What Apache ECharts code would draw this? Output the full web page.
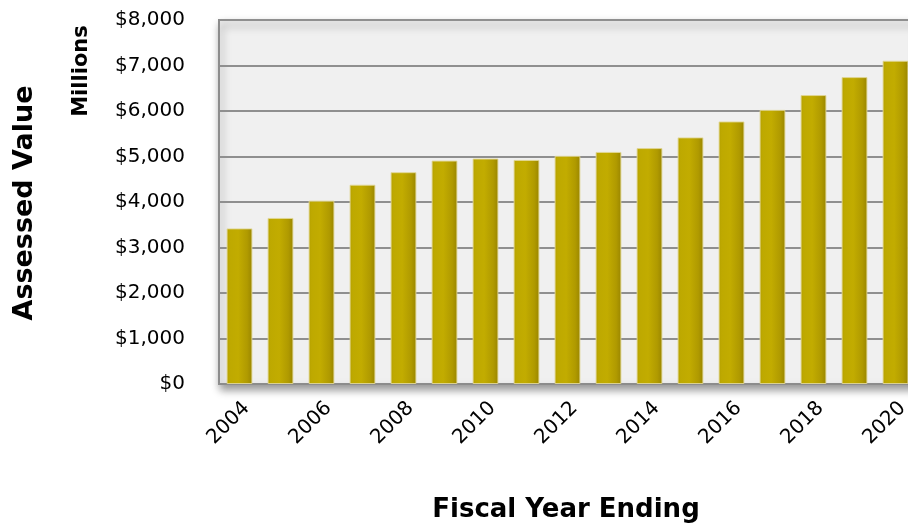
<!DOCTYPE html>
<html>
<head>
<meta charset="utf-8">
<script src="https://cdn.jsdelivr.net/npm/echarts@6/dist/echarts.min.js"></script>
<style>
html,body{margin:0;padding:0;background:#fff;}
#chart{width:908px;height:526px;}
</style>
</head>
<body>
<div id="chart"></div>
<script>
var years = ['2004','2005','2006','2007','2008','2009','2010','2011','2012','2013','2014','2015','2016','2017','2018','2019','2020'];
var assessedValue = [3420, 3650, 4030, 4380, 4655, 4910, 4955, 4925, 5015, 5100, 5185, 5420, 5770, 6025, 6350, 6745, 7105];
var yTicks = [0, 1000, 2000, 3000, 4000, 5000, 6000, 7000, 8000];

var FONT = 'DejaVu Sans';
var chart = echarts.init(document.getElementById('chart'), null, {renderer: 'canvas'});
chart.setOption({
  animation: false,
  backgroundColor: '#ffffff',
  grid: {
    left: 219, top: 20, width: 697, height: 364,
    outerBoundsMode: 'none',
    containLabel: false,
    show: true,
    backgroundColor: '#f0f0f0',
    borderColor: '#8c8c8c',
    borderWidth: 2,
    shadowColor: 'rgba(0,0,0,0.4)',
    shadowBlur: 8,
    shadowOffsetX: 2,
    shadowOffsetY: 5
  },
  xAxis: {
    type: 'category',
    data: years,
    axisLine: {show: true, lineStyle: {color: '#8c8c8c', width: 2}},
    axisTick: {show: false},
    axisLabel: {
      interval: 1,
      rotate: 45,
      margin: 14,
      verticalAlign: 'top',
      fontFamily: FONT,
      fontSize: 20,
      color: '#000'
    }
  },
  yAxis: {
    type: 'value',
    min: yTicks[0],
    max: yTicks[yTicks.length - 1],
    interval: 1000,
    axisLine: {show: true, lineStyle: {color: '#8c8c8c', width: 2}},
    axisTick: {show: false},
    splitLine: {show: true, lineStyle: {color: '#8f8f8f', width: 2}},
    axisLabel: {
      margin: 34,
      fontFamily: FONT,
      fontSize: 20,
      color: '#000',
      formatter: function (v) { return '$' + v.toLocaleString('en-US'); }
    }
  },
  series: [{
    type: 'bar',
    data: assessedValue,
    barWidth: '63%',
    itemStyle: {
      color: new echarts.graphic.LinearGradient(0, 0, 1, 0, [
        {offset: 0, color: '#b4a000'},
        {offset: 0.12, color: '#bea900'},
        {offset: 0.45, color: '#c2ac00'},
        {offset: 0.8, color: '#b09a00'},
        {offset: 1, color: '#998500'}
      ]),
      borderColor: 'rgba(225,215,150,0.9)',
      borderWidth: 1
    }
  }],
  graphic: [
    {
      type: 'text', x: 25, y: 203, rotation: Math.PI / 2,
      style: {text: 'Assessed Value', fontFamily: FONT, fontWeight: 'bold', fontSize: 27, fill: '#000', align: 'center', verticalAlign: 'middle'}
    },
    {
      type: 'text', x: 82, y: 71, rotation: Math.PI / 2,
      style: {text: 'Millions', fontFamily: FONT, fontWeight: 'bold', fontSize: 21, fill: '#000', align: 'center', verticalAlign: 'middle'}
    },
    {
      type: 'text', x: 566, y: 510,
      style: {text: 'Fiscal Year Ending', fontFamily: FONT, fontWeight: 'bold', fontSize: 26, fill: '#000', align: 'center', verticalAlign: 'middle'}
    }
  ]
});
</script>
</body>
</html>
